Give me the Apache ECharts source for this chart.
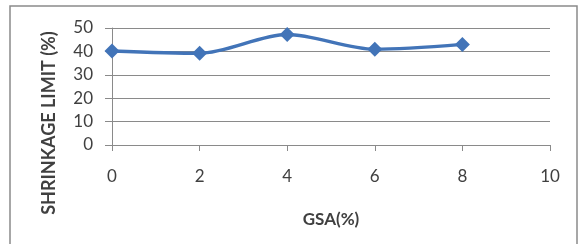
<!DOCTYPE html>
<html>
<head>
<meta charset="utf-8">
<script src="https://cdn.jsdelivr.net/npm/echarts@6/dist/echarts.min.js"></script>
<style>
  html, body { margin: 0; padding: 0; background: #fff; }
  #chart { width: 587px; height: 244px; }
</style>
</head>
<body>
<div id="chart"></div>
<script>
// GSA content (%) and measured shrinkage limit (%)
var gsa = [0, 2, 4, 6, 8];
var shrinkage = [40.2, 39.2, 47.2, 40.9, 43];
var xTicks = [0, 2, 4, 6, 8, 10];
var yTicks = [0, 10, 20, 30, 40, 50];
var xTitle = "GSA(%)";
var yTitle = "SHRINKAGE LIMIT (%)";

var chart = echarts.init(document.getElementById("chart"));

var points = gsa.map(function (g, i) { return [g, shrinkage[i]]; });

chart.setOption({
  animation: false,
  textStyle: { fontFamily: "Lato, 'Open Sans', sans-serif" },
  graphic: [{
    type: "rect",
    shape: { x: 10, y: 6, width: 567, height: 250 },
    style: { fill: "none", stroke: "#8a8a8a", lineWidth: 1.5 },
    silent: true
  }, {
    // y title sits lower than the plot middle, like the original
    type: "text",
    x: 49,
    y: 123,
    rotation: Math.PI / 2,
    style: {
      text: yTitle,
      align: "center",
      verticalAlign: "middle",
      fontSize: 18,
      fontWeight: "bold",
      fontFamily: "Lato, 'Open Sans', sans-serif",
      fill: "#404040"
    },
    silent: true
  }],
  grid: { left: 112, right: 37, top: 28, bottom: 99 },
  xAxis: {
    type: "value",
    min: xTicks[0],
    max: xTicks[xTicks.length - 1],
    interval: 2,
    name: xTitle,
    nameLocation: "middle",
    nameGap: 66,
    nameTextStyle: { fontSize: 17, fontWeight: "bold", color: "#404040" },
    axisLine: { lineStyle: { color: "#8a8a8a", width: 1 } },
    axisTick: { show: true, length: 6, lineStyle: { color: "#8a8a8a" } },
    axisLabel: { fontSize: 17, color: "#404040", margin: 23 },
    splitLine: { show: false }
  },
  yAxis: {
    type: "value",
    min: yTicks[0],
    max: yTicks[yTicks.length - 1],
    interval: 10,
    axisLine: { show: true, lineStyle: { color: "#8a8a8a", width: 1 } },
    axisTick: { show: true, length: 7, lineStyle: { color: "#8a8a8a" } },
    axisLabel: { fontSize: 17, color: "#404040", margin: 19 },
    splitLine: { show: true, lineStyle: { color: "#8a8a8a", width: 1 } }
  },
  series: [{
    type: "line",
    data: points,
    smooth: 0.3,
    symbol: "diamond",
    symbolSize: 15,
    lineStyle: { color: "#4274b8", width: 3.5 },
    itemStyle: { color: "#4274b8" }
  }]
});
</script>
</body>
</html>
